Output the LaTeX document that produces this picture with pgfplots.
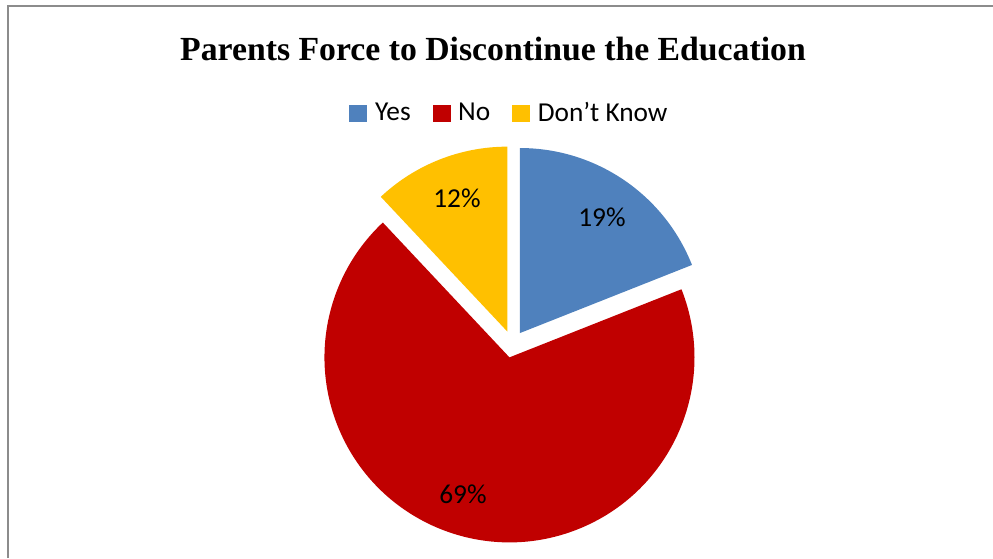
\documentclass[border=0pt]{standalone}
\usepackage{pgfplots}
\pgfplotsset{compat=1.18}
\usepackage{pgfplotstable}
\usepackage{fontspec}
\setmainfont{Carlito}
\newfontfamily\titlefont{Liberation Serif}
\definecolor{yesblue}{RGB}{79,129,189}
\definecolor{nored}{RGB}{192,0,0}
\definecolor{dkyellow}{RGB}{255,192,0}
\definecolor{framegray}{RGB}{140,140,140}

\pgfplotstableread[col sep=comma]{
label,value
Yes,19
No,69
Don’t Know,12
}\piedata

% slice geometry (pixel-like axis units)
\def\cx{512.4}\def\cy{213.8}\def\rr{185}\def\dd{13.5}
\pgfplotstablegetelem{0}{value}\of\piedata\edef\vA{\pgfplotsretval}
\pgfplotstablegetelem{1}{value}\of\piedata\edef\vB{\pgfplotsretval}
\pgfplotstablegetelem{2}{value}\of\piedata\edef\vC{\pgfplotsretval}
\newcommand\slicecalc[3]{% #1 name, #2 start angle, #3 value
  \pgfmathsetmacro\tmpend{#2-3.6*#3}%
  \pgfmathsetmacro\tmpmid{(#2+\tmpend)/2}%
  \pgfmathsetmacro\tmpox{\cx+\dd*cos(\tmpmid)}%
  \pgfmathsetmacro\tmpoy{\cy+\dd*sin(\tmpmid)}%
  \pgfmathsetmacro\tmpsx{\tmpox+\rr*cos(#2)}%
  \pgfmathsetmacro\tmpsy{\tmpoy+\rr*sin(#2)}%
  \expandafter\xdef\csname #1s\endcsname{#2}%
  \expandafter\xdef\csname #1e\endcsname{\tmpend}%
  \expandafter\xdef\csname #1ox\endcsname{\tmpox}%
  \expandafter\xdef\csname #1oy\endcsname{\tmpoy}%
  \expandafter\xdef\csname #1sx\endcsname{\tmpsx}%
  \expandafter\xdef\csname #1sy\endcsname{\tmpsy}%
}
\slicecalc{A}{90}{\vA}
\slicecalc{B}{\Ae}{\vB}
\slicecalc{C}{\Be}{\vC}
\newcommand\drawslice[2]{%
  \fill[#2] (axis cs:\csname #1ox\endcsname,\csname #1oy\endcsname) --
    (axis cs:\csname #1sx\endcsname,\csname #1sy\endcsname)
    arc[start angle=\csname #1s\endcsname, end angle=\csname #1e\endcsname, radius=138.75pt] -- cycle;}

\begin{document}
\begin{tikzpicture}
\begin{axis}[
  at={(0pt,0pt)}, anchor=south west,
  scale only axis, width=744.75pt, height=418.5pt,
  xmin=0, xmax=993, ymin=0, ymax=558,
  hide axis,
  legend columns=3,
  legend style={draw=none, fill=none, at={(axis cs:508.5,445)}, anchor=center,
    font=\fontsize{20.5}{24}\selectfont, nodes={inner sep=0pt},
    /tikz/every even column/.append style={column sep=16.5pt}},
]
\draw[framegray, line width=1.5pt] (axis cs:8.3,0) -- (axis cs:8.3,552.3) -- (axis cs:993,552.3);
\addlegendimage{legend image code/.code={\fill[yesblue] (0pt,-6pt) rectangle (12.75pt,6pt); \path (18.75pt,0pt);}}
\addlegendentry{Yes}
\addlegendimage{legend image code/.code={\fill[nored] (0pt,-6pt) rectangle (12.75pt,6pt); \path (18.75pt,0pt);}}
\addlegendentry{No}
\addlegendimage{legend image code/.code={\fill[dkyellow] (0pt,-6pt) rectangle (12.75pt,6pt); \path (18.75pt,0pt);}}
\addlegendentry{Don’t Know}
\drawslice{A}{yesblue}
\drawslice{B}{nored}
\drawslice{C}{dkyellow}
\node[anchor=base, font=\titlefont\bfseries\fontsize{25.3}{30}\selectfont] at (axis cs:493,497) {Parents Force to Discontinue the Education};
\node[font=\fontsize{20.5}{24}\selectfont] at (axis cs:602,341) {19\%};
\node[font=\fontsize{20.5}{24}\selectfont] at (axis cs:457,360) {12\%};
\node[font=\fontsize{20.5}{24}\selectfont] at (axis cs:463,64) {69\%};
\end{axis}
\pgfresetboundingbox
\path (0pt,0pt) rectangle (744.75pt,418.5pt);
\end{tikzpicture}
\end{document}
